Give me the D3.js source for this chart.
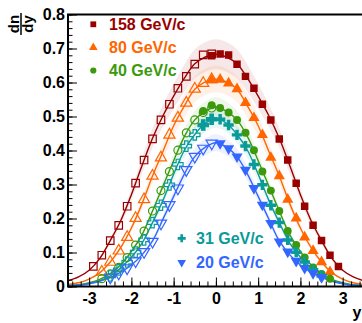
<!DOCTYPE html>
<html><head><meta charset="utf-8">
<script src="https://cdn.jsdelivr.net/npm/d3@7"></script>
<style>body{margin:0;background:#fff}svg{display:block}</style>
</head><body><svg id="c" width="362" height="323"></svg>
<script>
// ---------- data ----------
const seriesNames = ["158 GeV/c", "80 GeV/c", "40 GeV/c", "31 GeV/c", "20 GeV/c"];

// measured points (filled markers); open markers are the reflection y -> -y
const y158 = [-0.1,0.1,0.3,0.5,0.7,0.9,1.1,1.3,1.5,1.7,1.9,2.1,2.3,2.5,2.7,2.9];
const v158 = [0.679,0.684,0.681,0.654,0.618,0.583,0.536,0.490,0.434,0.372,0.304,0.236,0.180,0.135,0.092,0.059];
const y80  = [-0.1,0.1,0.3,0.5,0.7,0.9,1.1,1.3,1.5,1.7,1.9,2.1,2.3,2.5,2.7];
const v80  = [0.607,0.609,0.598,0.581,0.540,0.496,0.446,0.379,0.325,0.256,0.201,0.145,0.105,0.072,0.043];
const y40  = [-0.3,-0.1,0.1,0.3,0.5,0.7,0.9,1.1,1.3,1.5,1.7,1.9,2.1,2.3,2.5,2.7];
const v40  = [0.516,0.533,0.525,0.512,0.490,0.452,0.401,0.338,0.282,0.222,0.163,0.122,0.085,0.056,0.037,0.023];
const y31  = [-0.3,-0.1,0.1,0.3,0.5,0.7,0.9,1.1,1.3,1.5,1.7,1.9,2.1,2.3,2.5];
const v31  = [0.475,0.492,0.492,0.475,0.446,0.413,0.359,0.299,0.239,0.188,0.137,0.101,0.072,0.049,0.031];
const y20  = [0.1,0.3,0.5,0.7,0.9,1.1,1.3,1.5,1.7,1.9,2.1,2.3,2.5];
const v20  = [0.421,0.406,0.382,0.343,0.289,0.240,0.186,0.132,0.102,0.075,0.054,0.039,0.027];

// fit curves, read at |y| = 0 ... 3.5 (symmetric)
const curveY = [0,0.25,0.5,0.75,1.0,1.25,1.5,1.75,2.0,2.25,2.5,2.75,3.0,3.25,3.5];
const c158 = [0.683,0.675,0.655,0.612,0.560,0.503,0.436,0.355,0.270,0.194,0.135,0.082,0.048,0.028,0.017];
const c80  = [0.610,0.602,0.580,0.530,0.473,0.398,0.325,0.243,0.172,0.115,0.072,0.040,0.022,0.011,0.006];
const c40  = [0.528,0.515,0.490,0.440,0.370,0.296,0.222,0.152,0.103,0.064,0.038,0.021,0.011,0.005,0.003];
const c31  = [0.494,0.480,0.447,0.400,0.330,0.254,0.188,0.127,0.086,0.055,0.031,0.017,0.009,0.004,0.002];
const c20  = [0.423,0.410,0.382,0.330,0.265,0.199,0.134,0.093,0.063,0.042,0.027,0.015,0.008,0.004,0.002];

// relative systematic band
const sysFrac = [0.065,0.065,0.055,0.055,0.06];

const xTicks = [-3,-2,-1,0,1,2,3];
const yTicks = [0,0.1,0.2,0.3,0.4,0.5,0.6,0.7,0.8];

// ---------- styles ----------
const colors = ["#990000","#ff6600","#3a9a0c","#0a9a9a","#3366ff"];
const FONT = "'Liberation Sans', Arial, Helvetica, sans-serif";

const svg = d3.select("#c");
const x = d3.scaleLinear().domain([-3.5,3.5]).range([68,363.8]);
const y = d3.scaleLinear().domain([0,0.8]).range([286.5,14.5]);

svg.append("defs").append("clipPath").attr("id","clip")
  .append("rect").attr("x",68).attr("y",14.5).attr("width",363.8-68).attr("height",272);

const data = [
  {ys:y158, vs:v158, cv:c158},
  {ys:y80,  vs:v80,  cv:c80},
  {ys:y40,  vs:v40,  cv:c40},
  {ys:y31,  vs:v31,  cv:c31},
  {ys:y20,  vs:v20,  cv:c20}
];

const sq = d3.symbol().type(d3.symbolSquare);
const tri = d3.symbol().type(d3.symbolTriangle);
const cir = d3.symbol().type(d3.symbolCircle);
const crs = d3.symbol().type(d3.symbolCross);
const symDefs = [
  {gen:sq, size:56, rot:0},
  {gen:tri, size:54, rot:0},
  {gen:cir, size:50, rot:0},
  {gen:crs, size:60, rot:0},
  {gen:tri, size:54, rot:180}
];

const plot = svg.append("g").attr("clip-path","url(#clip)");

data.forEach((s,i)=>{
  const pts = [];
  for (let k=curveY.length-1;k>0;k--) pts.push([-curveY[k], s.cv[k]]);
  for (let k=0;k<curveY.length;k++) pts.push([curveY[k], s.cv[k]]);
  s.curve = pts;
  const maxY = d3.max(s.ys.map(Math.abs));
  s.band = pts.filter(p=>Math.abs(p[0])<=maxY+0.1);
});

// bands
data.forEach((s,i)=>{
  const f = sysFrac[i];
  plot.append("path")
    .attr("d", d3.area().curve(d3.curveCatmullRom)
      .x(d=>x(d[0])).y0(d=>y(d[1]*(1-f))).y1(d=>y(d[1]*(1+f)))(s.band))
    .attr("fill", colors[i]).attr("fill-opacity",0.09).attr("stroke","none");
});

// curves
data.forEach((s,i)=>{
  plot.append("path")
    .attr("d", d3.line().curve(d3.curveCatmullRom).x(d=>x(d[0])).y(d=>y(d[1]))(s.curve))
    .attr("fill","none").attr("stroke",colors[i]).attr("stroke-width",1.4);
});

// markers
data.forEach((s,i)=>{
  const sd = symDefs[i];
  const open = s.ys.map((v,k)=>[v,s.vs[k]]).filter(p=>p[0]>0).map(p=>[-p[0],p[1]]);
  const filled = s.ys.map((v,k)=>[v,s.vs[k]]);
  plot.selectAll(null).data(open).enter().append("path")
    .attr("d", sd.gen.size(sd.size)())
    .attr("transform", d=>`translate(${x(d[0])},${y(d[1])}) rotate(${sd.rot})`)
    .attr("fill","none").attr("stroke",colors[i]).attr("stroke-width",1.2);
  plot.selectAll(null).data(filled).enter().append("path")
    .attr("d", sd.gen.size(sd.size)())
    .attr("transform", d=>`translate(${x(d[0])},${y(d[1])}) rotate(${sd.rot})`)
    .attr("fill",colors[i]).attr("stroke","none");
});

// axes
function styleAxis(g){
  g.select(".domain").remove();
  g.selectAll("line").attr("stroke","#000").attr("stroke-width",1);
  g.selectAll("text").attr("font-family",FONT).attr("font-size",16).attr("font-weight","bold").attr("fill","#000");
}
svg.append("g").attr("transform","translate(68,0)")
  .call(d3.axisLeft(y).tickValues(d3.range(0,0.8001,0.02)).tickSize(-4.5).tickFormat(""))
  .call(styleAxis);
svg.append("g").attr("transform","translate(68,0)")
  .call(d3.axisLeft(y).tickValues(yTicks).tickSizeInner(-9).tickSizeOuter(0).tickPadding(3)
    .tickFormat(d=> d===0 ? "0" : d3.format(".1f")(d)))
  .call(styleAxis);
svg.append("g").attr("transform","translate(0,286.5)")
  .call(d3.axisBottom(x).tickValues(d3.range(-3.4,3.5,0.2)).tickSize(-5).tickFormat(""))
  .call(styleAxis);
svg.append("g").attr("transform","translate(0,286.5)")
  .call(d3.axisBottom(x).tickValues(xTicks).tickSizeInner(-9).tickSizeOuter(0).tickPadding(6)
    .tickFormat(d=>String(d)))
  .call(styleAxis);

// frame
svg.append("rect").attr("x",68).attr("y",14.5).attr("width",363.8-68).attr("height",272)
  .attr("fill","none").attr("stroke","#000").attr("stroke-width",2);

// axis titles
const yt = svg.append("g").attr("transform","translate(21,24) rotate(-90)")
  .attr("font-family",FONT).attr("font-weight","bold").attr("font-size",15);
yt.append("text").attr("x",0).attr("y",-2).attr("text-anchor","middle").text("dn");
yt.append("line").attr("x1",-11).attr("x2",11).attr("y1",0).attr("y2",0).attr("stroke","#000").attr("stroke-width",1.5);
yt.append("text").attr("x",0).attr("y",11.5).attr("text-anchor","middle").text("dy");

svg.append("text").attr("x",357).attr("y",318).attr("text-anchor","middle")
  .attr("font-family",FONT).attr("font-weight","bold").attr("font-size",16).text("y");

// legends
const legPos = [
  {mx:93.3, my:24.3, tx:109, ty:30},
  {mx:93.3, my:47.5, tx:109, ty:52.5},
  {mx:93.3, my:70.5, tx:109, ty:75.5},
  {mx:181.7, my:238.3, tx:196, ty:243.5},
  {mx:181.7, my:262.5, tx:196, ty:268}
];
seriesNames.forEach((name,i)=>{
  const p = legPos[i], sd = symDefs[i];
  svg.append("path").attr("d", sd.gen.size(sd.size*0.6)())
    .attr("transform",`translate(${p.mx},${p.my}) rotate(${sd.rot})`)
    .attr("fill",colors[i]);
  svg.append("text").attr("x",p.tx).attr("y",p.ty)
    .attr("font-family",FONT).attr("font-weight","bold").attr("font-size",16)
    .attr("fill",colors[i]).text(name);
});
</script></body></html>
